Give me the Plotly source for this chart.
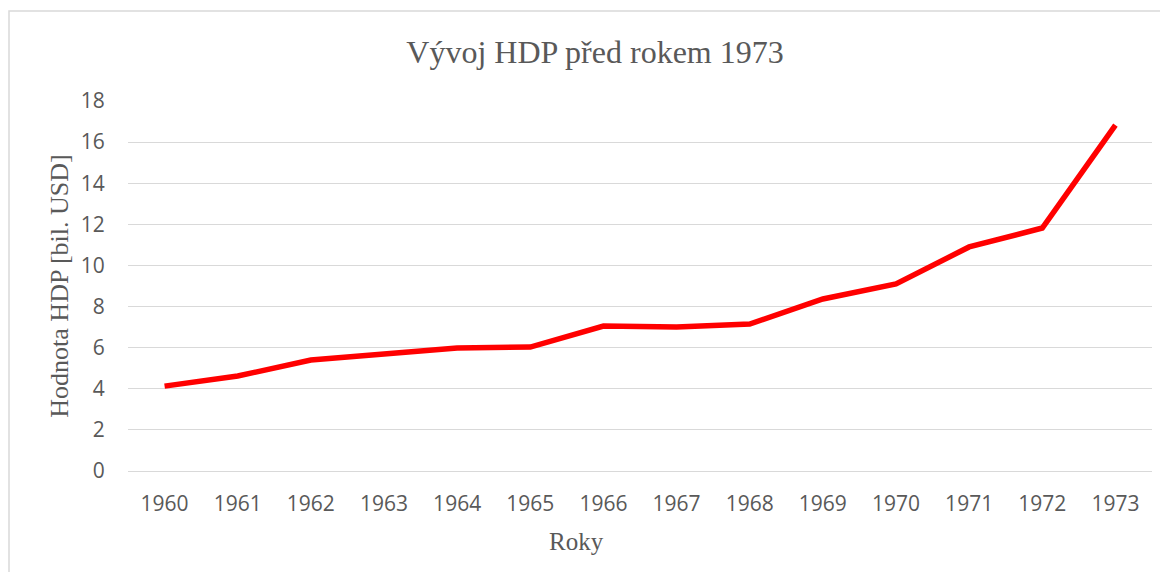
import plotly.graph_objects as go

years = ["1960", "1961", "1962", "1963", "1964", "1965", "1966",
         "1967", "1968", "1969", "1970", "1971", "1972", "1973"]
hdp = [4.13, 4.62, 5.40, 5.69, 5.98, 6.03, 7.05,
       7.00, 7.15, 8.37, 9.10, 10.90, 11.82, 16.83]
y_ticks = [0, 2, 4, 6, 8, 10, 12, 14, 16, 18]

# page has an 8px body margin; figure is sized to fit the window
W, H = 1152, 564
L, R, T, B = 120, 8, 93, 101
pw = W - L - R
ph = H - T - B

fig = go.Figure()
fig.add_trace(go.Scatter(
    x=years, y=hdp, mode="lines",
    line=dict(color="#FF0000", width=5.5),
    hoverinfo="x+y", showlegend=False,
))

serif = "Liberation Serif, Times New Roman, serif"
sans = "Open Sans, Liberation Sans, sans-serif"
grey = "#595959"

fig.update_layout(
    width=W, height=H,
    margin=dict(l=L, r=R, t=T, b=B, pad=0),
    paper_bgcolor="white", plot_bgcolor="white",
    title=dict(text="Vývoj HDP před rokem 1973", x=587 / W, xanchor="center",
               y=1 - 44 / H, yanchor="middle",
               font=dict(family=serif, size=32, color=grey)),
    xaxis=dict(
        type="category", range=[-0.5, len(years) - 0.5],
        showgrid=False, showline=True, linecolor="#D9D9D9", linewidth=1.3,
        ticks="outside", ticklen=14, tickcolor="rgba(0,0,0,0)",
        tickfont=dict(family=sans, size=21, color=grey),
        zeroline=False,
    ),
    yaxis=dict(
        range=[0, 18], tickvals=y_ticks, showgrid=True, gridcolor="#D9D9D9", gridwidth=1.3,
        showline=False, zeroline=False,
        ticks="outside", ticklen=18, tickcolor="rgba(0,0,0,0)",
        tickfont=dict(family=sans, size=21, color=grey),
        title=dict(text="Hodnota HDP [bil. USD]", font=dict(family=serif, size=26, color=grey), standoff=4),
    ),
    annotations=[dict(
        text="Roky", xref="paper", yref="paper",
        x=(568 - L) / pw, y=(H - 533 - B) / ph, xanchor="center", yanchor="middle",
        showarrow=False, font=dict(family=serif, size=25, color=grey),
    )],
    shapes=[dict(
        type="rect", xref="paper", yref="paper",
        x0=(1 - L) / pw, x1=(W + 10 - L) / pw,
        y0=(-20 - B) / ph, y1=(H - 3 - B) / ph,
        line=dict(color="#D9D9D9", width=1.5), fillcolor="rgba(0,0,0,0)", layer="below",
    )],
)

fig.write_html("out.html")
